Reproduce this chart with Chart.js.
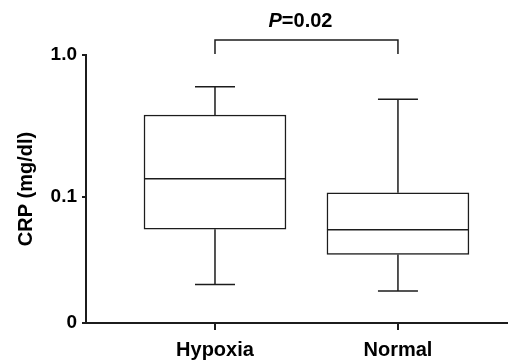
<!DOCTYPE html>
<html><head><meta charset="utf-8">
<script src="https://cdn.jsdelivr.net/npm/chart.js@4.4.1/dist/chart.umd.min.js"></script>
<style>html,body{margin:0;padding:0;background:#fff}canvas{display:block}</style>
</head><body>
<canvas id="c" width="508" height="360"></canvas>
<script>
const categories = ['Hypoxia', 'Normal'];
const whiskerMin = [0.0243, 0.0218];
const quartile1 = [0.0595, 0.0395];
const medians = [0.1346, 0.0588];
const quartile3 = [0.378, 0.1072];
const whiskerMax = [0.598, 0.488];
const yTickValues = [0.013, 0.1, 1.0];
const yTickLabels = ['0', '0.1', '1.0'];
const pValueParts = ['P', '=0.02'];
const yAxisTitle = 'CRP (mg/dl)';

const FONT = 'Liberation Sans';
const LINE = '#1c1c1c';

const boxParts = {
  id: 'boxParts',
  afterDatasetsDraw(chart) {
    const {ctx, scales: {x, y}, chartArea} = chart;
    const meta = chart.getDatasetMeta(0);
    ctx.save();
    ctx.strokeStyle = LINE;
    ctx.lineWidth = 1.5;
    ctx.lineCap = 'butt';
    categories.forEach((c, i) => {
      const bar = meta.data[i];
      const cx = x.getPixelForValue(i + 1);
      const half = bar.width / 2;
      const capHalf = 20;
      const yMed = y.getPixelForValue(medians[i]);
      const yQ1 = y.getPixelForValue(quartile1[i]);
      const yQ3 = y.getPixelForValue(quartile3[i]);
      const yMin = y.getPixelForValue(whiskerMin[i]);
      const yMax = y.getPixelForValue(whiskerMax[i]);
      ctx.beginPath();
      ctx.moveTo(cx - half, yMed); ctx.lineTo(cx + half, yMed);
      ctx.moveTo(cx, yQ3); ctx.lineTo(cx, yMax);
      ctx.moveTo(cx - capHalf, yMax); ctx.lineTo(cx + capHalf, yMax);
      ctx.moveTo(cx, yQ1); ctx.lineTo(cx, yMin);
      ctx.moveTo(cx - capHalf, yMin); ctx.lineTo(cx + capHalf, yMin);
      ctx.stroke();
    });
    // significance bracket
    const x1 = x.getPixelForValue(1), x2 = x.getPixelForValue(2);
    const yb = chartArea.top - 15, ye = chartArea.top - 1;
    ctx.beginPath();
    ctx.moveTo(x1, ye); ctx.lineTo(x1, yb); ctx.lineTo(x2, yb); ctx.lineTo(x2, ye);
    ctx.stroke();
    ctx.fillStyle = '#000';
    ctx.textBaseline = 'middle';
    ctx.textAlign = 'left';
    const fItal = 'italic bold 20px "' + FONT + '"';
    const fBold = 'bold 20px "' + FONT + '"';
    ctx.font = fItal; const w1 = ctx.measureText(pValueParts[0]).width;
    ctx.font = fBold; const w2 = ctx.measureText(pValueParts[1]).width;
    const tx = (x1 + x2) / 2 - 6 - (w1 + w2) / 2;
    const ty = chartArea.top - 33.5;
    ctx.font = fItal; ctx.fillText(pValueParts[0], tx, ty);
    ctx.font = fBold; ctx.fillText(pValueParts[1], tx + w1, ty);
    ctx.restore();
  }
};

new Chart(document.getElementById('c'), {
  type: 'bar',
  data: {
    datasets: [{
      data: categories.map((c, i) => ({x: i + 1, y: [quartile1[i], quartile3[i]]})),
      backgroundColor: '#ffffff',
      borderColor: LINE,
      borderWidth: 1.5,
      borderSkipped: false,
      barThickness: 142
    }]
  },
  options: {
    responsive: false,
    animation: false,
    layout: {padding: {top: 55, right: 1, left: 0, bottom: 0}},
    plugins: {legend: {display: false}, tooltip: {enabled: false}},
    scales: {
      x: {
        type: 'linear', min: 0.295, max: 2.596, offset: false,
        afterBuildTicks: s => { s.ticks = categories.map((c, i) => ({value: i + 1})); },
        afterFit: s => { s.height = 37; },
        ticks: {
          callback: (v, i) => categories[i],
          font: {family: FONT, weight: 'bold', size: 20},
          color: '#000', padding: 8, maxRotation: 0, autoSkip: false
        },
        grid: {drawOnChartArea: false, offset: false, tickLength: 7, lineWidth: 2, color: LINE},
        border: {display: true, color: LINE, width: 2}
      },
      y: {
        type: 'logarithmic', min: yTickValues[0], max: yTickValues[yTickValues.length - 1],
        beginAtZero: false,
        afterBuildTicks: s => { s.ticks = yTickValues.map(v => ({value: v})); },
        afterFit: s => { s.width = 86; },
        ticks: {
          callback: (v, i) => yTickLabels[i],
          font: {family: FONT, weight: 'bold', size: 19},
          color: '#000', padding: 5, autoSkip: false
        },
        grid: {drawOnChartArea: false, tickLength: 4, lineWidth: 2, color: LINE},
        border: {display: true, color: LINE, width: 2},
        title: {
          display: true, text: yAxisTitle,
          font: {family: FONT, weight: 'bold', size: 20},
          color: '#000', padding: {top: 14, bottom: 0}
        }
      }
    }
  },
  plugins: [boxParts]
});
</script>
</body></html>
